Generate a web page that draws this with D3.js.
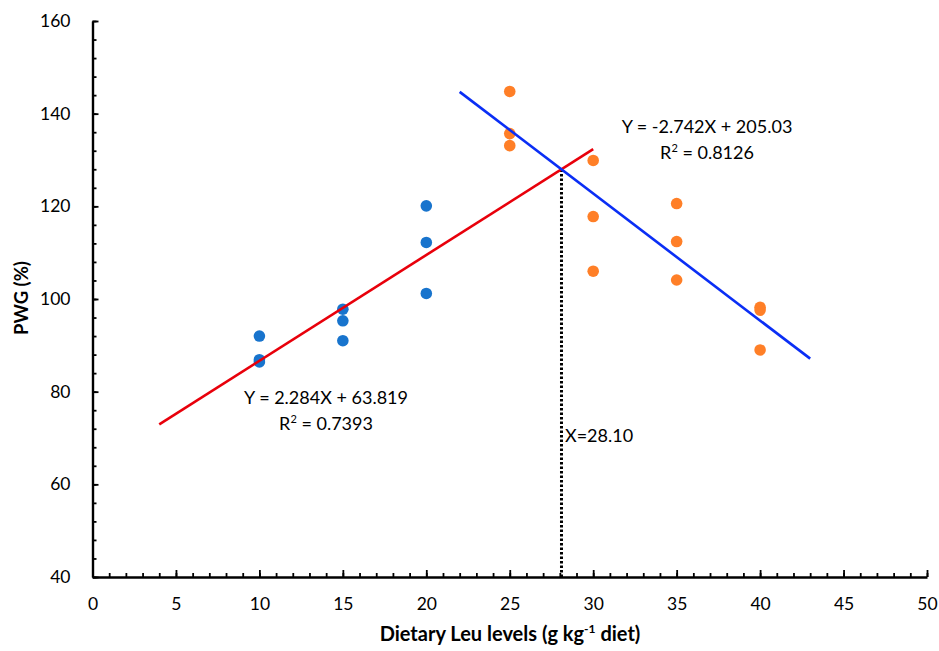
<!DOCTYPE html>
<html>
<head>
<meta charset="utf-8">
<script src="https://cdn.jsdelivr.net/npm/d3@7"></script>
<style>
  body { margin: 0; background: #fff; }
  svg text { font-family: Lato, "Open Sans", sans-serif; fill: #000; }
</style>
</head>
<body>
<div id="chart"></div>
<script>
// data
var blueX = [10, 10, 10, 15, 15, 15, 20, 20, 20];
var blueY = [92.0, 86.9, 86.4, 97.8, 95.3, 91.0, 120.1, 112.2, 101.2];
var orangeX = [25, 25, 25, 30, 30, 30, 35, 35, 35, 40, 40, 40];
var orangeY = [144.8, 135.7, 133.1, 129.9, 117.8, 106.0, 120.6, 112.4, 104.1, 98.2, 97.6, 89.0];

// regression lines: [slope, intercept, xStart, xEnd]
var redFit = [2.284, 63.819, 4, 30];
var blueFit = [-2.742, 205.03, 22, 43];
var breakX = 28.10;

var xTicks = [0, 5, 10, 15, 20, 25, 30, 35, 40, 45, 50];
var yTicks = [40, 60, 80, 100, 120, 140, 160];

var width = 939, height = 651;

var svg = d3.select("#chart").append("svg")
  .attr("width", width)
  .attr("height", height);

var x = d3.scaleLinear().domain([0, 50]).range([92.5, 927]);
var y = d3.scaleLinear().domain([40, 160]).range([577, 21]);

// minor ticks
svg.append("g")
  .attr("transform", "translate(0,577)")
  .call(d3.axisBottom(x).tickValues(d3.range(0, 51, 1)).tickSize(-4).tickFormat(""))
  .call(function (g) { g.select(".domain").remove(); })
  .selectAll("line").attr("stroke-width", 1.8);

svg.append("g")
  .attr("transform", "translate(92.5,0)")
  .call(d3.axisLeft(y).tickValues(d3.range(40, 161, 4)).tickSize(-4).tickFormat(""))
  .call(function (g) { g.select(".domain").remove(); })
  .selectAll("line").attr("stroke-width", 1.8);

// major ticks and labels
var xAxis = svg.append("g")
  .attr("transform", "translate(0,577)")
  .call(d3.axisBottom(x).tickValues(xTicks).tickSizeInner(-7).tickSizeOuter(0).tickPadding(21));
xAxis.select(".domain").attr("stroke-width", 2.4);
xAxis.selectAll("line").attr("stroke-width", 1.8);
xAxis.selectAll("text").attr("font-size", 17.5).attr("font-family", "Lato");

var yAxis = svg.append("g")
  .attr("transform", "translate(92.5,0)")
  .call(d3.axisLeft(y).tickValues(yTicks).tickSizeInner(-6).tickSizeOuter(0).tickPadding(22));
yAxis.select(".domain").attr("stroke-width", 2.4);
yAxis.selectAll("line").attr("stroke-width", 1.8);
yAxis.selectAll("text").attr("font-size", 17.5).attr("font-family", "Lato");

// axis titles
svg.append("text")
  .attr("transform", "translate(28,298) rotate(-90)")
  .attr("text-anchor", "middle")
  .attr("font-size", 18.5)
  .attr("font-weight", "bold")
  .text("PWG (%)");

var xt = svg.append("text")
  .attr("x", 510)
  .attr("y", 641)
  .attr("text-anchor", "middle")
  .attr("font-size", 20)
  .attr("font-weight", "bold");
xt.append("tspan").text("Dietary Leu levels (g kg");
xt.append("tspan").attr("font-size", 12).attr("dy", -8).text("-1");
xt.append("tspan").attr("dy", 8).text(" diet)");

// dotted line at the break point
svg.append("line")
  .attr("x1", x(breakX)).attr("x2", x(breakX))
  .attr("y1", y(40)).attr("y2", y(redFit[0] * breakX + redFit[1]))
  .attr("stroke", "#000")
  .attr("stroke-width", 3)
  .attr("stroke-dasharray", "2.5,2");

// fitted lines
function fitLine(f, color) {
  svg.append("line")
    .attr("x1", x(f[2])).attr("y1", y(f[0] * f[2] + f[1]))
    .attr("x2", x(f[3])).attr("y2", y(f[0] * f[3] + f[1]))
    .attr("stroke", color)
    .attr("stroke-width", 2.6);
}

// points
function dots(xs, ys, color) {
  svg.append("g").selectAll("circle")
    .data(xs)
    .enter()
      .append("circle")
      .attr("cx", function (d) { return x(d); })
      .attr("cy", function (d, i) { return y(ys[i]); })
      .attr("r", 5.8)
      .attr("fill", color);
}

dots(blueX, blueY, "#1874CD");
dots(orangeX, orangeY, "#FF7F27");
fitLine(redFit, "#E8000B");
fitLine(blueFit, "#0A2EF5");

// equation labels
function eq(cx, cy, line1, r2) {
  svg.append("text")
    .attr("x", cx).attr("y", cy)
    .attr("text-anchor", "middle")
    .attr("font-size", 18)
    .text(line1);
  var t = svg.append("text")
    .attr("x", cx).attr("y", cy + 26)
    .attr("text-anchor", "middle")
    .attr("font-size", 18);
  t.append("tspan").text("R");
  t.append("tspan").attr("font-size", 11).attr("dy", -7).text("2");
  t.append("tspan").attr("dy", 7).text(" = " + r2);
}

eq(326, 404, "Y = 2.284X + 63.819", "0.7393");
eq(707, 133, "Y = -2.742X + 205.03", "0.8126");

svg.append("text")
  .attr("x", 565).attr("y", 442)
  .attr("font-size", 18)
  .text("X=28.10");
</script>
</body>
</html>
